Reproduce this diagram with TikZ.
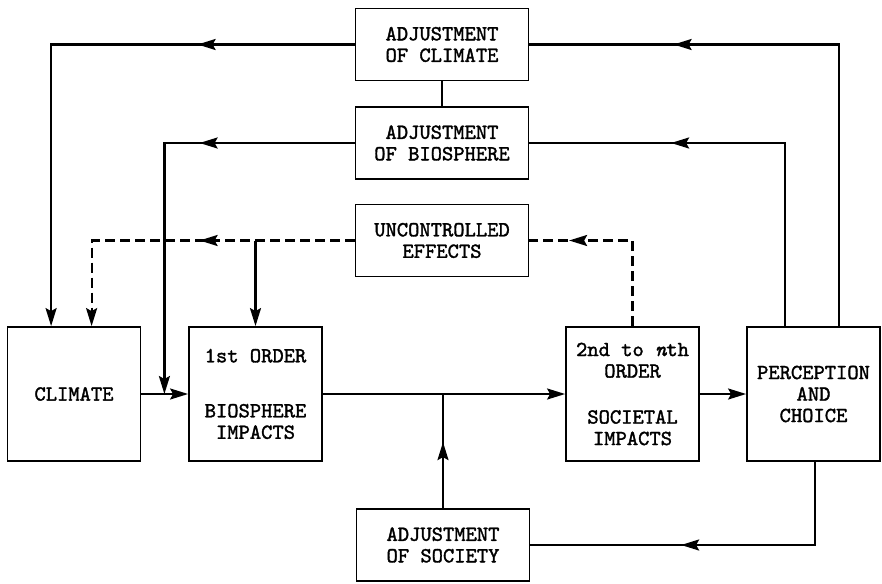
\documentclass[tikz,border=0pt]{standalone}
\usepackage{fontspec}
\newfontfamily\boxfont{lmmono10-regular.otf}[FakeBold=1.6]
\newfontfamily\boxitfont{lmmono10-italic.otf}[FakeBold=1.6]
\usetikzlibrary{arrows.meta, decorations.markings}

\begin{document}
\begin{tikzpicture}[
    x=1pt, y=-1pt,
    >={Stealth[length=18pt, width=11pt, inset=3pt]},
    box/.style={
        draw,
        line width=1.8pt,
        minimum width=173pt,
        minimum height=72pt,
        inner sep=2pt,
        font=\boxfont\fontsize{21.5}{21.5}\selectfont,
        align=center
      },
    bigbox/.style={box, minimum width=133pt, minimum height=134pt},
    conn/.style={line width=2.2pt},
    dashline/.style={conn, dash pattern=on 10pt off 5pt},
    midarr/.style={postaction={decorate},
        decoration={markings, mark=at position #1 with {\arrow{>}}}}
  ]
  \useasboundingbox (0,0) rectangle (882,583);
  % adjustment boxes
  \node[box] (adjc) at (442,44.5) {ADJUSTMENT\\OF CLIMATE};
  \node[box] (adjb) at (442,143) {ADJUSTMENT\\OF BIOSPHERE};
  \node[box] (unc) at (442,240.5) {UNCONTROLLED\\EFFECTS};
  \node[box] (adjs) at (443,545) {ADJUSTMENT\\OF SOCIETY};
  % main chain
  \node[bigbox] (clim) at (74,394) {CLIMATE};
  \node[bigbox] (first) at (255.5,394) {1st ORDER\\[33.5pt]BIOSPHERE\\IMPACTS};
  \node[bigbox] (second) at (632.5,394) {2nd to {\boxitfont n}th\\ORDER\\[24.5pt]SOCIETAL\\IMPACTS};
  \node[bigbox] (perc) at (813.5,394) {PERCEPTION\\AND\\CHOICE};
  \coordinate (joinb) at ([xshift=23pt]clim.east);

  \draw[conn, ->] (clim) -- (first);
  \draw[conn, ->] (first) -- (second);
  \draw[conn, ->] (second) -- (perc);
  \draw[conn] (adjc) -- (adjb);

  % feedback loops
  \draw[conn, midarr=447pt] ([xshift=25.5pt]perc.north) |- (adjc.east);
  \draw[conn, midarr=157pt, ->] (adjc.west) -| ([xshift=44.5pt]clim.north west);
  \draw[conn, midarr=297pt] ([xshift=-28.5pt]perc.north) |- (adjb.east);
  \draw[conn, midarr=155pt, ->] (adjb.west) -| (joinb);
  \draw[conn, midarr=217pt] ([xshift=1.5pt]perc.south) |- (adjs.east);
  \draw[conn, midarr=66pt] (adjs.north) -- (adjs.north |- first.east);

  % uncontrolled effects
  \draw[dashline, midarr=149pt] (second.north) |- (unc.east);
  \draw[dashline, midarr=155pt, ->] (unc.west) -| ([xshift=85pt]clim.north west);
  \draw[conn, ->] (first.north |- unc.west) -- (first.north);
\end{tikzpicture}
\end{document}
